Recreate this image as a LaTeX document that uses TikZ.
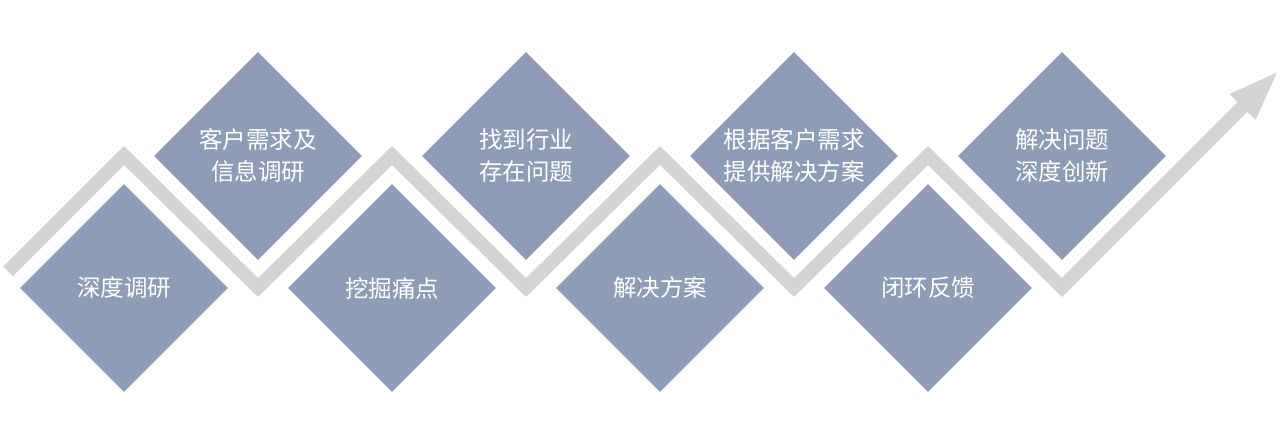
\documentclass[tikz,border=0pt]{standalone}
\usepackage{fontspec}
\setmainfont{Noto Sans CJK SC}
\usetikzlibrary{shapes.geometric}
\definecolor{diafill}{HTML}{8F9CB6}
\definecolor{linegray}{HTML}{D4D4D4}
\tikzset{
  dia/.style={diamond, fill=diafill, minimum width=208pt, minimum height=208pt, inner sep=0pt, aspect=1},
  txt/.style={text=white, font=\fontsize{23.5pt}{32pt}\selectfont, align=center, inner sep=0pt},
  zig/.style={draw=linegray, line width=13.5pt, line join=miter, line cap=butt}
}
\begin{document}
\begin{tikzpicture}[x=1pt,y=-1pt]
\useasboundingbox (0,0) rectangle (1280,438);
% zigzag line
\coordinate (s) at (8,271.5);
\coordinate (p1) at (124,155.5);
\coordinate (v1) at (258,287.5);
\coordinate (p2) at (392,155.5);
\coordinate (v2) at (526,287.5);
\coordinate (p3) at (660,155.5);
\coordinate (v3) at (794,287.5);
\coordinate (p4) at (928,155.5);
\coordinate (v4) at (1062,287.5);
\coordinate (ab) at (1243,106.5);
\coordinate (tip) at (1277,72.5);
\coordinate (w1) at (1229.5,94);
\coordinate (w2) at (1255.5,120);
\draw[zig] (s) -- (p1) -- (v1) -- (p2) -- (v2) -- (p3) -- (v3) -- (p4) -- (v4) -- (ab);
\fill[linegray] (tip) -- (w1) -- (w2) -- cycle;
% diamonds
\node[dia] (b1) at (124,288) {};
\node[dia] (t1) at (258,156) {};
\node[dia] (b2) at (392,288) {};
\node[dia] (t2) at (526,156) {};
\node[dia] (b3) at (660,288) {};
\node[dia] (t3) at (794,156) {};
\node[dia] (b4) at (928,288) {};
\node[dia] (t4) at (1062,156) {};
% texts
\node[txt] (lb1) at (b1) {深度调研};
\node[txt] (lt1) at (t1) {客户需求及\\信息调研};
\node[txt] (lb2) at (b2) {挖掘痛点};
\node[txt] (lt2) at (t2) {找到行业\\存在问题};
\node[txt] (lb3) at (b3) {解决方案};
\node[txt] (lt3) at (t3) {根据客户需求\\提供解决方案};
\node[txt] (lb4) at (b4) {闭环反馈};
\node[txt] (lt4) at (t4) {解决问题\\深度创新};
\end{tikzpicture}
\end{document}
